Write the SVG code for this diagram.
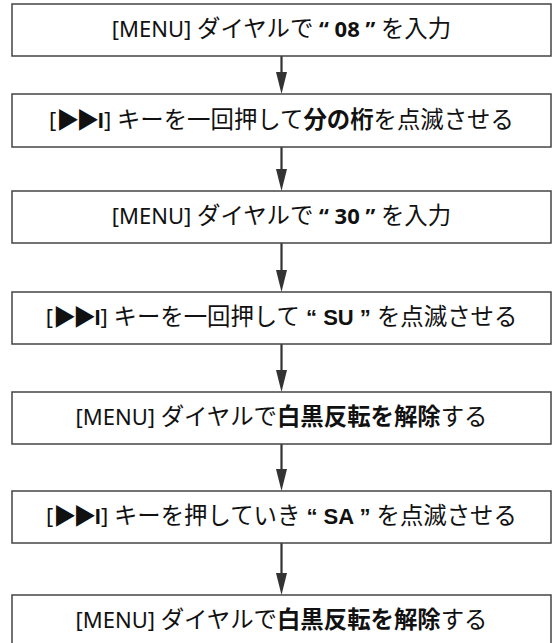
<svg xmlns="http://www.w3.org/2000/svg" width="553" height="643" viewBox="0 0 553 643">
<style>
.box{fill:#fff;stroke:#444;stroke-width:1.5}
.t{font-family:"Noto Sans CJK JP","Noto Sans",sans-serif;font-size:23.4px;fill:#111;text-anchor:middle}
.l{font-family:"Noto Sans","Noto Sans CJK JP",sans-serif;font-size:22px}
.a{font-family:"Liberation Sans","Noto Sans",sans-serif;font-size:22px;font-weight:bold}
.p{font-family:"Noto Sans CJK JP",sans-serif;font-size:23px;letter-spacing:-3px}
.b{font-weight:bold}
.ln{stroke:#333;stroke-width:2.2}
.ah{fill:#333}
</style>
<rect width="553" height="643" fill="#fff"/>
<g id="connectors">
<line class="ln" x1="281.5" y1="56" x2="281.5" y2="74"/><polygon class="ah" points="276,72 287,72 281.5,94"/>
<line class="ln" x1="281.5" y1="147" x2="281.5" y2="171"/><polygon class="ah" points="276,169 287,169 281.5,191"/>
<line class="ln" x1="281.5" y1="243" x2="281.5" y2="272"/><polygon class="ah" points="276,270 287,270 281.5,292"/>
<line class="ln" x1="281.5" y1="344" x2="281.5" y2="372"/><polygon class="ah" points="276,370 287,370 281.5,392"/>
<line class="ln" x1="281.5" y1="444" x2="281.5" y2="471"/><polygon class="ah" points="276,469 287,469 281.5,491"/>
<line class="ln" x1="281.5" y1="543" x2="281.5" y2="575"/><polygon class="ah" points="276,573 287,573 281.5,595"/>
</g>
<g id="n1"><rect class="box" x="12" y="4" width="539" height="52"/>
<text class="t" x="281.5" y="37"><tspan class="l">[MENU] </tspan>ダイヤルで<tspan class="l b"> “ 08 ” </tspan>を入力</text></g>
<g id="n2"><rect class="box" x="12" y="94" width="539" height="53"/>
<text class="t" x="281.5" y="128"><tspan class="l">[</tspan><tspan class="p">▶▶</tspan><tspan class="a" dx="1.5">I</tspan><tspan class="l">] </tspan>キーを一回押して<tspan class="b">分の桁</tspan>を点滅させる</text></g>
<g id="n3"><rect class="box" x="12" y="191" width="539" height="52"/>
<text class="t" x="281.5" y="224"><tspan class="l">[MENU] </tspan>ダイヤルで<tspan class="l b"> “ 30 ” </tspan>を入力</text></g>
<g id="n4"><rect class="box" x="12" y="292" width="539" height="52"/>
<text class="t" x="281.5" y="325"><tspan class="l">[</tspan><tspan class="p">▶▶</tspan><tspan class="a" dx="1.5">I</tspan><tspan class="l">] </tspan>キーを一回押して<tspan class="a"> “ SU ” </tspan>を点滅させる</text></g>
<g id="n5"><rect class="box" x="12" y="392" width="539" height="52"/>
<text class="t" x="281.5" y="425"><tspan class="l">[MENU] </tspan>ダイヤルで<tspan class="b">白黒反転を解除</tspan>する</text></g>
<g id="n6"><rect class="box" x="12" y="491" width="539" height="52"/>
<text class="t" x="281.5" y="524"><tspan class="l">[</tspan><tspan class="p">▶▶</tspan><tspan class="a" dx="1.5">I</tspan><tspan class="l">] </tspan>キーを押していき<tspan class="a"> “ SA ” </tspan>を点滅させる</text></g>
<g id="n7"><rect class="box" x="12" y="595" width="539" height="52"/>
<text class="t" x="281.5" y="628"><tspan class="l">[MENU] </tspan>ダイヤルで<tspan class="b">白黒反転を解除</tspan>する</text></g>
</svg>
